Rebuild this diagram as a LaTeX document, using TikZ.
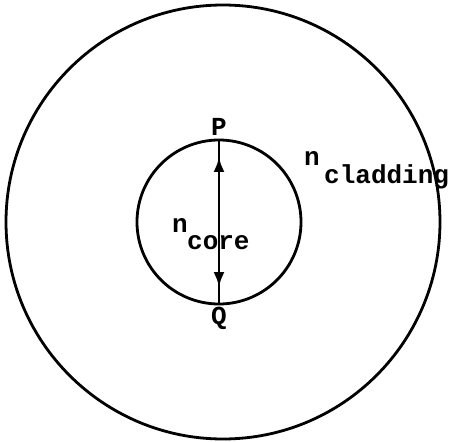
\documentclass[tikz,border=0pt]{standalone}
\usepackage{fontspec}
\setmonofont{Liberation Mono}
\usetikzlibrary{arrows.meta, decorations.markings}
\tikzset{
  % fibre cross-section rings
  ring/.style={draw, circle, line width=2.8pt, inner sep=0pt, minimum size=#1},
  % typewriter labels
  lbl/.style={font=\fontsize{26}{28}\selectfont\ttfamily\bfseries, inner sep=0pt},
  % diameter P--Q with inner arrow heads
  D/.style={line width=2.8pt, postaction={decorate}, decoration={markings,
    mark=at position 0.11 with {\arrowreversed{Latex[length=15pt,width=11pt]}},
    mark=at position 0.89 with {\arrow{Latex[length=15pt,width=11pt]}}}},
}
\begin{document}
\begin{tikzpicture}[x=1pt, y=-1pt]
\useasboundingbox (0,0) rectangle (451,442);

% cladding and core
\node[ring=434pt] (clad) at (223,222) {};
\node[ring=164pt] (core) at (219,222) {};

% diameter
\draw[D] (core.north) -- (core.south);
\node[lbl] (P) at (219,127) {P};
\node[lbl] (Q) at (219,318) {Q};

% refractive indices
\node[lbl, anchor=base west] (ncore) at (172,232) {n};
\node[lbl, anchor=base west] (ncorelbl) at (187,249) {core};
\node[lbl, anchor=base west] (nclad) at (304,165) {n};
\node[lbl, anchor=base west] (ncladlbl) at (324,183) {cladding};

\end{tikzpicture}
\end{document}
